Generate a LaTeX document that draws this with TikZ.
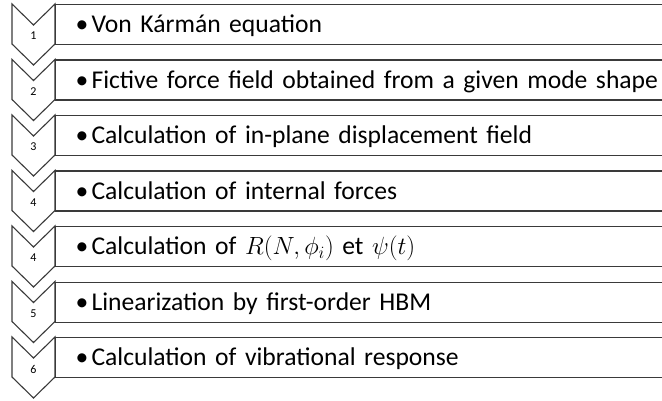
\documentclass[tikz,border=0pt]{standalone}
\usepackage{fontspec}
\setmainfont{Carlito}
\usetikzlibrary{positioning}
\definecolor{ink}{HTML}{3A3A3A}
\tikzset{
  x=1pt,y=1pt,
  every node/.style={text=black},
  chev/.style={draw=ink,line width=1.1pt,line join=miter},
  stepnum/.style={font=\fontsize{12}{14}\selectfont,inner sep=0pt},
  stepbox/.style={draw=ink,line width=1.1pt,anchor=north west,minimum width=640pt,
    minimum height=40pt,inner xsep=0pt,inner ysep=0pt,text height=22pt,text depth=6pt,
    text width=620pt,align=left,font=\fontsize{25.6}{28}\selectfont},
}
\newcommand{\stepitem}[1]{\hspace*{10pt}\makebox[16pt][l]{\textbullet}#1}

\begin{document}
\begin{tikzpicture}
\useasboundingbox (0,0) rectangle (662,-401);
\clip (0,0) rectangle (662,-401);

% chevrons down the left side
\foreach \k/\n in {0/1,1/2,2/3,3/4,4/4,5/5,6/6}{
  \pgfmathsetmacro{\yt}{-4-55.5*\k}
  \draw[chev] (12,\yt) -- ++(21.5,-21) -- ++(21.5,21) -- ++(0,-40)
    -- ++(-21.5,-21) -- ++(-21.5,21) -- cycle;
  \node[stepnum] (n\k) at (33.5,\yt-32) {\n};
}

\node[stepbox] (b1) at (55,-4)     {\stepitem{Von Kármán equation}};
\node[stepbox] (b2) at (55,-59.5)  {\stepitem{Fictive force field obtained from a given mode shape}};
\node[stepbox] (b3) at (55,-115)   {\stepitem{Calculation of in-plane displacement field}};
\node[stepbox] (b4) at (55,-170.5) {\stepitem{Calculation of internal forces}};
\node[stepbox] (b5) at (55,-226)   {\stepitem{Calculation of $R(N,\phi_i)$ et $\psi(t)$}};
\node[stepbox] (b6) at (55,-281.5) {\stepitem{Linearization by first-order HBM}};
\node[stepbox] (b7) at (55,-337)   {\stepitem{Calculation of vibrational response}};

\end{tikzpicture}
\end{document}
